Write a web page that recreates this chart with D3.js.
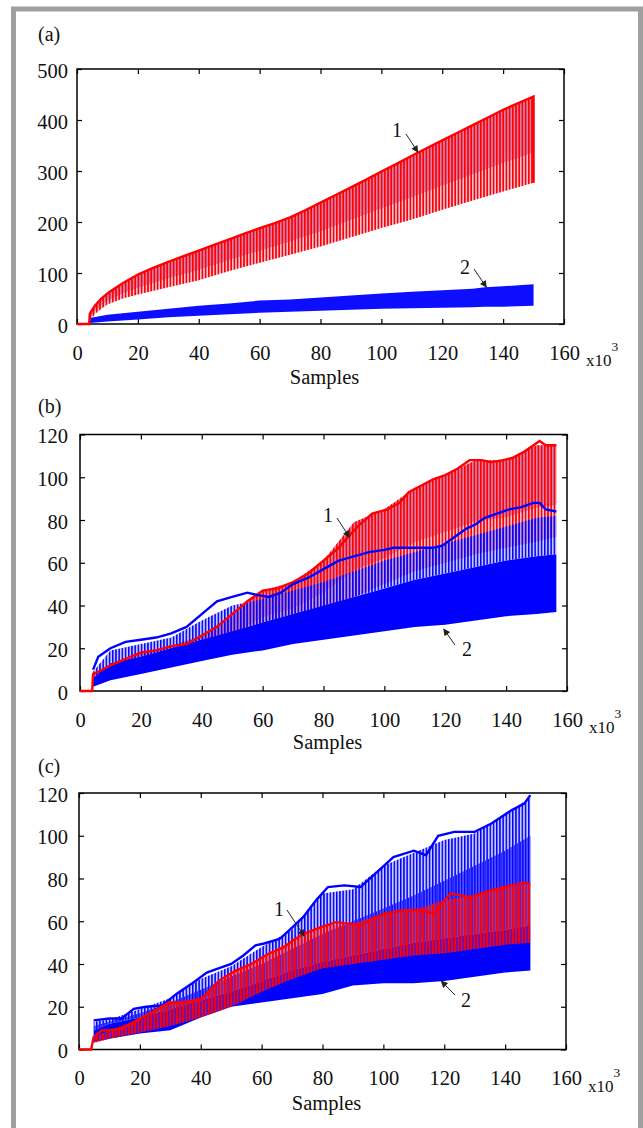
<!DOCTYPE html>
<html><head><meta charset="utf-8">
<script src="https://cdn.jsdelivr.net/npm/d3@7"></script>
<style>
html,body{margin:0;padding:0;background:#fff;}
</style></head>
<body>
<svg id="chart" width="643" height="1128"></svg>
<script>
// ---------------- data (x in thousands of samples) ----------------
const xTicks = [0,20,40,60,80,100,120,140,160];
const yTicksA = [0,100,200,300,400,500];
const yTicksBC = [0,20,40,60,80,100,120];

// Panel (a) curve 1 (red): staircase upper line
const aRedLineX = [0,4,4.2,5,6,8,10,12,15,20,25,30,35,40,45,50,55,60,65,70,75,80,85,90,95,100,105,110,115,120,125,130,135,140,145,150,150];
const aRedLineV = [0,0,20,28,37,50,60,68,80,97,110,122,133,144,155,166,177,188,198,209,223,238,253,268,283,299,314,330,345,360,375,390,405,420,433,446,277];
// Panel (a) curve 1 teeth band
const aRedBandX    = [4.2,6,8,10,15,20,30,40,50,60,70,80,90,100,110,120,130,140,150];
const aRedBandHigh = [20,37,50,60,80,97,122,144,166,188,209,238,268,299,330,360,390,420,446];
const aRedBandLow  = [6,20,30,38,50,58,72,86,104,120,136,152,170,188,205,224,242,260,277];
// Panel (a) curve 2 (blue) band
const aBlueBandX    = [4.2,10,20,30,40,50,60,70,80,90,100,110,120,130,134,140,150];
const aBlueBandHigh = [12,18,24,30,36,40,46,48,52,56,60,63,66,69,72,74,78];
const aBlueBandLow  = [2,5,9,13,16,19,22,24,26,28,30,31,32,33,34,34,36];

// Panel (b) curve 1 (red)
const bRedLineX = [0,4,4.3,6,10,15,20,25,30,35,40,45,50,55,60,65,70,75,80,85,88,92,96,101,105,108,112,116,120,124,128,132,135,139,142,146,149,151,153,156.5];
const bRedLineV = [0,0,8,9,12,15,18,19,21,22,26,30,36,42,47,48,51,55,61,67,72,78,83,85,88,93,96,99,101,104,108,108,107,108,109,112,115,117,115,115];
const bRedBandX    = [4.3,10,20,30,40,50,60,70,80,90,100,110,120,130,140,150,156.5];
const bRedBandHigh = [8,12,18,21,26,36,47,51,61,79,85,95,101,108,108,115,115];
const bRedBandLow  = [4,8,11,14,17,22,28,32,38,44,50,56,60,64,67,70,72];
// Panel (b) curve 2 (blue)
const bBlueLineX = [4.3,6,10,15,20,25,30,35,40,45,50,55,58,62,66,70,75,80,85,90,95,100,103,108,112,116,119,122,127,130,133,137,141,145,149,151,153,156.5];
const bBlueLineV = [10,16,20,23,24,25,27,30,36,42,44,46,45,44,46,50,53,57,61,63,65,66,67,67,67,67,68,71,76,78,81,83,85,86,88,88,85,84];
const bBlueBandX    = [4.3,10,20,30,40,50,60,70,80,90,100,110,120,130,140,150,156.5];
const bBlueBandHigh = [9,19,22,25,33,40,43,47,51,56,61,65,69,73,77,81,82];
const bBlueBandCore = [6,13,16,20,24,28,32,36,40,44,48,52,55,58,61,63,64];
const bBlueBandLow  = [2,5,8,11,14,17,19,22,24,26,28,30,31,33,35,36,37];

// Panel (c) curve 1 (red)
const cRedLineX = [0,4,4.8,7.5,10,14,19,24,29.6,35,40.4,45.8,51.3,56.6,62.2,67.5,70.2,73.7,79,84.5,88,92.5,96,100.4,106,111.3,116.6,122,128.7,135.5,142.2,146,148.3];
const cRedLineV = [0,0,5.8,8.9,9,9.8,13.6,17.5,22,22,23.9,32,36.8,40,44.8,48,51,54,57,59.6,59,58,61,63.5,65,65.4,63.5,73,71.3,74.5,76.8,78,77.6];
const cRedBandX    = [4.8,10,20,30,40,50,60,70,80,90,100,110,120,130,140,148.3];
const cRedBandHigh = [5.8,9,14,22,24,36,43,51,58,59,63,65,70,72,76,77.6];
const cRedBandLow  = [3,5,8,11,15,20,27,33,38,40,42,44,45,47,49,50];
// Panel (c) curve 2 (blue)
const cBlueLineX = [4.8,10,14,18,22,27.3,32,37.7,42,45.8,50,54,58,60.8,66,70,73.7,78,81.8,87.2,92.5,97.9,103.3,110,114,118,123.3,130,135.5,142.2,146.3,148.3];
const cBlueLineV = [13.6,14.5,14.5,19,20,20.6,26,31.5,36,38,40,44,48.7,49.6,51.8,57,62,70,76,76.8,76,83,90,93,90.9,100,101.8,101.8,105.7,112,115,119];
const cBlueBandX    = [4.8,10,20,30,40,50,60,70,80,90,100,110,120,130,140,148.3];
const cBlueBandHigh = [13,14,19,24,33,39,48,56,73,75,86,92,98,101,110,118];
const cBlueBandMid  = [11,13,17,22,28,34,40,47,54,60,66,72,79,86,93,100];
const cBlueBandCore = [9,12,15,19,23,27,32,37,41,44,47,50,52,54,56,58];
const cBlueBandLow  = [3.4,5,7.5,9,15,20,22,24,26,30,31,31,32,34,36,37];

// ---------------- drawing ----------------
const FONT = "Liberation Serif";
const svg = d3.select("#chart");
const defs = svg.append("defs");

function stripe(id, w, lw, color, bg, bgOp, off){
  const p = defs.append("pattern").attr("id", id).attr("patternUnits","userSpaceOnUse")
    .attr("width", w).attr("height", 10).attr("x", off||0);
  if (bg) p.append("rect").attr("width", w).attr("height", 10).attr("fill", bg).attr("fill-opacity", bgOp);
  p.append("rect").attr("x",0).attr("width", lw).attr("height", 10).attr("fill", color);
}
stripe("redStripe", 3.2, 1.6, "#ff0000", null, 0);
stripe("blueStripe", 3.2, 1.5, "#0000ff", "#7070ff", 0.4);
stripe("blueStripe2", 3.2, 1.3, "#1010ff", null, 0, 1.6);

defs.append("marker").attr("id","arrow").attr("viewBox","0 0 10 10")
  .attr("refX",9).attr("refY",5).attr("markerWidth",9).attr("markerHeight",7)
  .attr("markerUnits","userSpaceOnUse").attr("orient","auto")
  .append("path").attr("d","M0,0 L10,5 L0,10 z").attr("fill","#222");

// gray outer frame
svg.append("rect").attr("x",13.5).attr("y",9).attr("width",627).attr("height",1200)
  .attr("fill","none").attr("stroke","#a0a0a0").attr("stroke-width",5);

function zip(xs, ys){ return xs.map((v,i)=>[v, ys[i]]); }
function band(xs, lo, hi){ return xs.map((v,i)=>[v, lo[i], hi[i]]); }
function txt(sel){ return sel.attr("font-family", FONT).style("font-family", FONT).attr("fill","#111"); }

function panel(cfg){
  const g = svg.append("g");
  const x = d3.scaleLinear().domain([0,160]).range([cfg.left, cfg.right]);
  const y = d3.scaleLinear().domain([0, cfg.ymax]).range([cfg.bottom, cfg.top]);
  const font = "20.5px";

  const gb = g.append("g").attr("transform",`translate(0,${cfg.bottom})`)
    .call(d3.axisBottom(x).tickValues(xTicks).tickSize(-5).tickPadding(21));
  const gt = g.append("g").attr("transform",`translate(0,${cfg.top})`)
    .call(d3.axisTop(x).tickValues(xTicks).tickSize(-5).tickFormat(""));
  const gl = g.append("g").attr("transform",`translate(${cfg.left},0)`)
    .call(d3.axisLeft(y).tickValues(cfg.yTicks).tickSize(-5).tickPadding(cfg.left-68));
  const gr = g.append("g").attr("transform",`translate(${cfg.right},0)`)
    .call(d3.axisRight(y).tickValues(cfg.yTicks).tickSize(-5).tickFormat(""));
  [gb,gt,gl,gr].forEach(gg=>{
    gg.attr("font-family", FONT);
    gg.select(".domain").remove();
    gg.selectAll("line").attr("stroke","#000").attr("stroke-width",1.2);
    txt(gg.selectAll("text")).style("font-size", font);
  });
  gl.selectAll("text").attr("dy","0.4em");

  g.append("rect").attr("x",cfg.left).attr("y",cfg.top)
    .attr("width",cfg.right-cfg.left).attr("height",cfg.bottom-cfg.top)
    .attr("fill","none").attr("stroke","#000").attr("stroke-width",1.5);

  const cid = "clip"+cfg.name;
  defs.append("clipPath").attr("id",cid).append("rect")
    .attr("x",cfg.left).attr("y",cfg.top-2).attr("width",cfg.right-cfg.left).attr("height",cfg.bottom-cfg.top+4);
  const d = g.append("g").attr("clip-path",`url(#${cid})`);

  const area = d3.area().x(p=>x(p[0])).y0(p=>y(p[1])).y1(p=>y(p[2]));
  const line = d3.line().x(p=>x(p[0])).y(p=>y(p[1]));

  cfg.layers.forEach(L=>{
    if (L.type==="area"){
      d.append("path").attr("d", area(band(L.x, L.lo, L.hi)))
        .attr("fill", L.fill).attr("fill-opacity", L.op==null?1:L.op);
    } else if (L.type==="upper"){
      const pts = L.x.map((v,i)=>[v, L.lo[i] + (L.hi[i]-L.lo[i])*L.frac, L.hi[i]]);
      d.append("path").attr("d", area(pts)).attr("fill", L.fill).attr("fill-opacity", L.op);
    } else {
      d.append("path").attr("d", line(zip(L.x, L.v)))
        .attr("fill","none").attr("stroke", L.color).attr("stroke-width", L.w)
        .attr("stroke-linejoin","miter");
    }
  });

  txt(g.append("text")).attr("x", (cfg.left+cfg.right)/2+4).attr("y", cfg.bottom+cfg.samplesDy)
    .attr("text-anchor","middle").style("font-size","20.5px").text("Samples");
  const xl = txt(g.append("text")).attr("x", cfg.right+22).attr("y", cfg.bottom+42).style("font-size","17px");
  xl.append("tspan").text("x10");
  xl.append("tspan").attr("dy",-15).style("font-size","13.5px").text("3");
  txt(g.append("text")).attr("x",38).attr("y",cfg.labelY).style("font-size","20px").text(cfg.label);

  cfg.notes.forEach(n=>{
    txt(g.append("text")).attr("x", n.tx).attr("y", n.ty).attr("text-anchor","middle")
      .style("font-size","20px").text(n.t);
    g.append("line").attr("x1", n.x1).attr("y1", n.y1).attr("x2", x(n.k)).attr("y2", y(n.v))
      .attr("stroke","#222").attr("stroke-width",1).attr("marker-end","url(#arrow)");
  });
}

panel({
  name:"a", left:77, right:564, top:69, bottom:324, ymax:500, yTicks:yTicksA,
  samplesDy:60, labelY:41, label:"(a)",
  layers:[
    {type:"area", x:aBlueBandX, lo:aBlueBandLow, hi:aBlueBandHigh, fill:"#0000ff", op:0.95},
    {type:"area", x:aRedBandX, lo:aRedBandLow, hi:aRedBandHigh, fill:"#c8306e", op:0.3},
    {type:"upper", x:aRedBandX, lo:aRedBandLow, hi:aRedBandHigh, frac:0.35, fill:"#b8307a", op:0.45},
    {type:"area", x:aRedBandX, lo:aRedBandLow, hi:aRedBandHigh, fill:"url(#redStripe)"},
    {type:"line", x:aRedLineX, v:aRedLineV, color:"#ff0000", w:2.4},
  ],
  notes:[
    {t:"1", tx:397, ty:137, x1:406, y1:134, k:112, v:337},
    {t:"2", tx:465, ty:274, x1:474, y1:269, k:134.5, v:72},
  ]
});

panel({
  name:"b", left:80, right:567, top:434.5, bottom:691, ymax:120, yTicks:yTicksBC,
  samplesDy:58, labelY:413, label:"(b)",
  layers:[
    {type:"area", x:bRedBandX, lo:bRedBandLow, hi:bRedBandHigh, fill:"#c8306e", op:0.3},
    {type:"upper", x:bRedBandX, lo:bRedBandLow, hi:bRedBandHigh, frac:0.35, fill:"#b8307a", op:0.45},
    {type:"area", x:bRedBandX, lo:bRedBandLow, hi:bRedBandHigh, fill:"url(#redStripe)"},
    {type:"area", x:bBlueBandX, lo:bBlueBandLow, hi:bBlueBandCore, fill:"#0000ff", op:1},
    {type:"area", x:bBlueBandX, lo:bBlueBandCore, hi:bBlueBandHigh, fill:"url(#blueStripe)"},
    {type:"line", x:bRedLineX, v:bRedLineV, color:"#ff0000", w:2.4},
    {type:"line", x:bBlueLineX, v:bBlueLineV, color:"#0000ff", w:2.4},
  ],
  notes:[
    {t:"1", tx:328, ty:522, x1:337, y1:518, k:88.5, v:72},
    {t:"2", tx:467, ty:656, x1:455, y1:645, k:119.5, v:29},
  ]
});

panel({
  name:"c", left:79, right:566, top:793, bottom:1049.5, ymax:120, yTicks:yTicksBC,
  samplesDy:60, labelY:773, label:"(c)",
  layers:[
    {type:"area", x:cBlueBandX, lo:cBlueBandLow, hi:cBlueBandCore, fill:"#0000ff", op:1},
    {type:"area", x:cBlueBandX, lo:cBlueBandCore, hi:cBlueBandHigh, fill:"url(#blueStripe)"},
    {type:"area", x:cBlueBandX, lo:cBlueBandCore, hi:cBlueBandMid, fill:"url(#blueStripe2)"},
    {type:"area", x:cRedBandX, lo:cRedBandLow, hi:cRedBandHigh, fill:"#e0205a", op:0.45},
    {type:"area", x:cRedBandX, lo:cRedBandLow, hi:cRedBandHigh, fill:"url(#redStripe)"},
    {type:"line", x:cBlueLineX, v:cBlueLineV, color:"#0000ff", w:2.4},
    {type:"line", x:cRedLineX, v:cRedLineV, color:"#ff0000", w:2.4},
  ],
  notes:[
    {t:"1", tx:279, ty:916, x1:287, y1:910, k:74, v:53},
    {t:"2", tx:466, ty:1007, x1:455, y1:995, k:119, v:32},
  ]
});
</script>
</body></html>
